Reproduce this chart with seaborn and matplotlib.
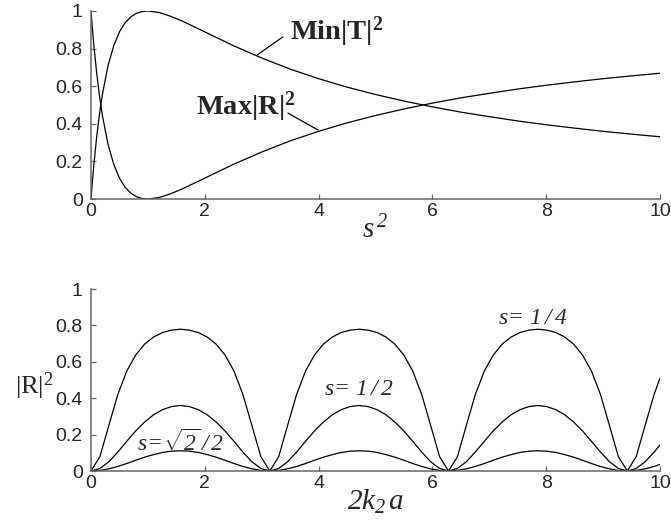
import matplotlib
matplotlib.use("Agg")
import matplotlib.pyplot as plt
import seaborn as sns

# top panel: extremes of |T|^2 and |R|^2 vs s^2
s2 = [0, 0.02, 0.05, 0.1, 0.15, 0.2, 0.3, 0.4, 0.5, 0.6, 0.7, 0.8, 0.9, 1.0, 1.2, 1.4, 1.6, 1.8,
      2.0, 2.5, 3.0, 3.5, 4.0, 4.5, 5.0, 5.5, 6.0, 6.5, 7.0, 7.5, 8.0, 8.5, 9.0, 9.5, 10.0]
min_t = [0, 0.077, 0.181, 0.331, 0.454, 0.556, 0.710, 0.816, 0.889, 0.938, 0.969, 0.988, 0.997, 1.0,
         0.992, 0.972, 0.947, 0.918, 0.889, 0.816, 0.750, 0.691, 0.640, 0.595, 0.556, 0.521, 0.490,
         0.462, 0.438, 0.415, 0.395, 0.377, 0.360, 0.345, 0.331]
max_r = [1.0, 0.923, 0.819, 0.669, 0.546, 0.444, 0.290, 0.184, 0.111, 0.062, 0.031, 0.012, 0.003, 0.0,
         0.008, 0.028, 0.053, 0.082, 0.111, 0.184, 0.250, 0.309, 0.360, 0.405, 0.444, 0.479, 0.510,
         0.538, 0.562, 0.585, 0.605, 0.623, 0.640, 0.655, 0.669]

# bottom panel: |R|^2 vs 2k2a for three values of s
k2a = [0.000, 0.157, 0.314, 0.471, 0.628, 0.785, 0.942, 1.100, 1.257, 1.414, 1.571, 1.728, 1.885,
       2.042, 2.199, 2.356, 2.513, 2.670, 2.827, 2.985, 3.142, 3.299, 3.456, 3.613, 3.770, 3.927,
       4.084, 4.241, 4.398, 4.555, 4.712, 4.869, 5.027, 5.184, 5.341, 5.498, 5.655, 5.812, 5.969,
       6.126, 6.283, 6.440, 6.597, 6.754, 6.912, 7.069, 7.226, 7.383, 7.540, 7.697, 7.854, 8.011,
       8.168, 8.325, 8.482, 8.639, 8.796, 8.954, 9.111, 9.268, 9.425, 9.582, 9.739, 9.896, 10.000]
r_quarter = [0, .079, .251, .420, .549, .637, .697, .736, .761, .774, .779, .774, .761, .736, .697,
             .637, .549, .420, .251, .079, 0,
             .079, .251, .420, .549, .637, .697, .736, .761, .774, .779, .774, .761, .736, .697,
             .637, .549, .420, .251, .079, 0,
             .079, .251, .420, .549, .637, .697, .736, .761, .774, .779, .774, .761, .736, .697,
             .637, .549, .420, .251, .079, 0,
             .079, .251, .420, .510]
r_half = [0, .014, .051, .104, .163, .220, .269, .309, .337, .354, .360, .354, .337, .309, .269,
          .220, .163, .104, .051, .014, 0,
          .014, .051, .104, .163, .220, .269, .309, .337, .354, .360, .354, .337, .309, .269,
          .220, .163, .104, .051, .014, 0,
          .014, .051, .104, .163, .220, .269, .309, .337, .354, .360, .354, .337, .309, .269,
          .220, .163, .104, .051, .014, 0,
          .014, .051, .104, .143]
r_root = [0, .003, .012, .025, .041, .059, .076, .090, .102, .109, .111, .109, .102, .090, .076,
          .059, .041, .025, .012, .003, 0,
          .003, .012, .025, .041, .059, .076, .090, .102, .109, .111, .109, .102, .090, .076,
          .059, .041, .025, .012, .003, 0,
          .003, .012, .025, .041, .059, .076, .090, .102, .109, .111, .109, .102, .090, .076,
          .059, .041, .025, .012, .003, 0,
          .003, .012, .025, .036]

sns.set_style("ticks")
plt.rcParams['font.family'] = ['Liberation Sans', 'DejaVu Sans']
# all math text italic serif (digits too), \mathsf -> upright serif, \mathbf -> bold serif
plt.rcParams['mathtext.fontset'] = 'custom'
plt.rcParams['mathtext.rm'] = 'Liberation Serif:italic'
plt.rcParams['mathtext.it'] = 'Liberation Serif:italic'
plt.rcParams['mathtext.sf'] = 'Liberation Serif'
plt.rcParams['mathtext.bf'] = 'Liberation Serif:bold'

SPINE = '#666666'

fig = plt.figure(figsize=(6.71, 5.2), dpi=100)
ax1 = fig.add_axes([91 / 671, 1 - 199 / 520, 569 / 671, 188 / 520])
ax2 = fig.add_axes([91 / 671, 1 - 471 / 520, 569 / 671, 182 / 520])

sns.lineplot(x=s2, y=min_t, ax=ax1, color='k', lw=0.9)
sns.lineplot(x=s2, y=max_r, ax=ax1, color='k', lw=0.9)
for ys in (r_quarter, r_half, r_root):
    sns.lineplot(x=k2a, y=ys, ax=ax2, color='k', lw=0.9)

for ax in (ax1, ax2):
    ax.set_xlim(0, 10)
    ax.set_ylim(0, 1)
    ax.set_xticks([0, 2, 4, 6, 8, 10])
    ax.set_yticks([0, 0.2, 0.4, 0.6, 0.8, 1])
    ax.set_yticklabels(['0', '0.2', '0.4', '0.6', '0.8', '1'])
    sns.despine(ax=ax)
    for sp in ('left', 'bottom'):
        ax.spines[sp].set_color(SPINE)
        ax.spines[sp].set_linewidth(1.1)
    ax.tick_params(direction='in', length=3.5, width=0.9, color=SPINE, labelsize=14)
    ax.tick_params(axis='y', pad=6)
    ax.tick_params(axis='x', pad=3)

ax1.set_xlabel(r'$s^{\,2}$', fontsize=21, labelpad=-3)
ax2.set_xlabel(r'$2k_{2}\,a$', fontsize=21, labelpad=-3)
ax2.set_ylabel(r'$\mathsf{|R|}^{\mathsf{2}}$', fontsize=19, rotation=0, labelpad=0)
ax2.yaxis.set_label_coords(-0.1, 0.38)

# annotations, top
ax1.plot([2.92, 3.37], [0.766, 0.862], color='k', lw=0.9)
ax1.text(3.5, 0.89, r'$\mathbf{Min|T|}^{\mathbf{2}}$', fontsize=20.5, va='center', ha='left')
ax1.plot([3.46, 3.99], [0.457, 0.367], color='k', lw=0.9)
ax1.text(3.6, 0.49, r'$\mathbf{Max|R|}^{\mathbf{2}}$', fontsize=20.5, va='center', ha='right')

# annotations, bottom
ax2.text(7.15, 0.84, r'$s\!=\,1\,/\,4$', fontsize=17, va='center', ha='left')
ax2.text(4.1, 0.45, r'$s\!=\,1\,/\,2$', fontsize=17, va='center', ha='left')
ax2.text(0.8, 0.155, r'$s\!=\!\sqrt{2}\,/\,2$', fontsize=17, va='center', ha='left')

fig.savefig('out.png', dpi=100)
